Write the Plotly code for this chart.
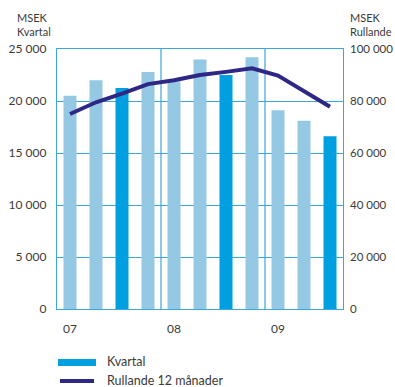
import plotly.graph_objects as go

# ---- data ----
years = ["07", "07", "07", "07", "08", "08", "08", "08", "09", "09", "09"]
kvartal = [20500, 22000, 21250, 22800, 21900, 24000, 22500, 24200, 19100, 18100, 16600]
dark_bar = [False, False, True, False, False, False, True, False, False, False, True]
rullande = [75000, 79500, 82800, 86500, 88000, 90000, 91200, 92600, 89800, 83900, 77800]
left_ticks = [0, 5000, 10000, 15000, 20000, 25000]
right_ticks = [0, 20000, 40000, 60000, 80000, 100000]

def fmt(v):
    return f"{v:,}".replace(",", " ")

LIGHT = "#95c9e3"
DARK = "#009fe0"
NAVY = "#2e2785"
GRID = "#3aa6dc"
TXT = "#3a3a3a"
FONT = "Lato"

W, H = 395, 387
L, R, T, B = 57, 343, 49, 309

def px(x):
    return (x - L) / (R - L)

def py(y):
    return (B - y) / (B - T)

xs = list(range(len(kvartal)))
first_idx = [i for i in xs if i == 0 or years[i] != years[i - 1]]
bounds = [i - 0.5 for i in first_idx if i > 0]

fig = go.Figure()
fig.add_trace(go.Bar(
    x=xs, y=kvartal,
    marker=dict(color=[DARK if d else LIGHT for d in dark_bar], line=dict(width=0)),
    name="Kvartal", yaxis="y", showlegend=False,
))
fig.add_trace(go.Scatter(
    x=xs, y=rullande, mode="lines",
    line=dict(color=NAVY, width=4),
    name="Rullande 12 månader", yaxis="y2", showlegend=False,
))

shapes = []
for b in bounds:
    shapes.append(dict(type="line", xref="x", yref="paper", x0=b, x1=b, y0=0, y1=1,
                       line=dict(color=GRID, width=1.2), layer="below"))
# legend swatches
shapes.append(dict(type="rect", xref="paper", yref="paper",
                   x0=px(58), x1=px(96), y0=py(359), y1=py(366),
                   fillcolor=DARK, line=dict(width=0)))
shapes.append(dict(type="line", xref="paper", yref="paper",
                   x0=px(60), x1=px(94), y0=py(381), y1=py(381),
                   line=dict(color=NAVY, width=4)))

annotations = [
    dict(text="MSEK<br>Kvartal", xref="paper", yref="paper", x=px(15), y=py(9),
         xanchor="left", yanchor="top", showarrow=False, align="left",
         font=dict(family=FONT, size=11, color=TXT)),
    dict(text="MSEK<br>Rullande", xref="paper", yref="paper", x=px(348), y=py(9),
         xanchor="left", yanchor="top", showarrow=False, align="left",
         font=dict(family=FONT, size=11, color=TXT)),
    dict(text="Kvartal", xref="paper", yref="paper", x=px(105), y=py(361.5),
         xanchor="left", yanchor="middle", showarrow=False,
         font=dict(family=FONT, size=12.5, color=TXT)),
    dict(text="Rullande 12 månader", xref="paper", yref="paper", x=px(105), y=py(380.5),
         xanchor="left", yanchor="middle", showarrow=False,
         font=dict(family=FONT, size=12.5, color=TXT)),
]

fig.update_layout(
    width=W, height=H,
    margin=dict(l=L, r=W - R, t=T, b=H - B, pad=0, autoexpand=False),
    paper_bgcolor="white", plot_bgcolor="white",
    bargap=0.5,
    showlegend=False,
    font=dict(family=FONT, size=12, color=TXT),
    xaxis=dict(
        range=[-0.5, len(xs) - 0.5], automargin=False,
        tickmode="array", tickvals=first_idx, ticktext=[years[i] for i in first_idx],
        showgrid=False, zeroline=False,
        showline=True, linecolor=GRID, linewidth=1.3, mirror=True,
        ticks="", ticklabelstandoff=8,
        tickfont=dict(family=FONT, size=12, color=TXT),
    ),
    yaxis=dict(
        range=[0, 25000], automargin=False,
        tickmode="array", tickvals=left_ticks, ticktext=[fmt(v) for v in left_ticks],
        showgrid=True, gridcolor=GRID, gridwidth=1.3, zeroline=False,
        showline=True, linecolor=GRID, linewidth=1.3, mirror=True,
        ticks="", ticklabelstandoff=7,
        tickfont=dict(family=FONT, size=12, color=TXT),
    ),
    yaxis2=dict(
        range=[0, 100000], overlaying="y", side="right", automargin=False,
        tickmode="array", tickvals=right_ticks, ticktext=[fmt(v) for v in right_ticks],
        showgrid=False, zeroline=False, showline=False,
        ticks="", ticklabelstandoff=6,
        tickfont=dict(family=FONT, size=11.5, color=TXT),
    ),
    shapes=shapes,
    annotations=annotations,
)

fig.write_html("out.html")
